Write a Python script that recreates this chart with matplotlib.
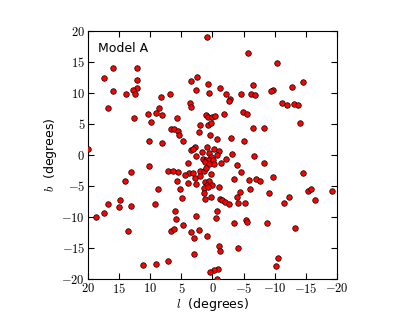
import numpy as np
import matplotlib
matplotlib.use("Agg")
from matplotlib import pyplot as plt
from matplotlib.ticker import FuncFormatter

# galactic longitude / latitude of the sources (degrees)
l_deg = [15.95, 12.09, 17.40, 12.14, 12.09, 12.83, 16.00, 13.86, 12.41, 8.23,
         6.78, 16.85, 8.60, 10.32, 9.13, 8.17, 0.93, -5.76, 2.54, 3.46,
         0.72, -1.21, -6.51, 2.65, 0.56, -2.17, -4.58, -6.19, -6.88, -2.81,
         -2.60, 3.62, 3.46, -4.90, -5.55, 1.05, -1.93, -10.37, -14.50, -12.83,
         -9.68, -9.36, -11.13, -11.93, -13.15, -13.79, 12.62, 9.94, 6.72, 6.14,
         10.16, 8.07, 19.97, 10.16, 13.10, 7.20, 14.07, 8.71, 14.87, 5.76,
         0.72, 0.08, -0.35, 1.96, 0.77, 0.19, 5.50, 5.43, 2.12, -6.56,
         0.45, 4.69, -0.72, -2.93, -5.11, 2.81, 3.46, 3.18, 0.93, -0.29,
         -1.05, -0.72, 1.69, 2.65, 0.51, 0.19, -3.18, -6.67, 1.58, 1.00,
         0.61, -0.13, 3.94, 1.25, 0.51, -0.19, -1.41, -2.12, -3.89, 6.40,
         5.55, 2.01, 1.32, 1.05, 0.19, 3.73, 3.09, 4.47, 2.86, 2.01,
         -4.63, 5.66, 3.89, 2.65, 1.25, 0.61, 0.88, 0.08, 1.32, 0.68,
         -1.05, -3.50, -5.87, -6.99, -7.64, 5.23, -6.03, 1.41, -4.42, 4.86,
         0.29, -1.21, -3.89, 1.25, -8.23, -14.07, -8.23, -14.60, -9.73, -9.08,
         -12.35, -15.40, -15.84, -19.16, -16.48, 18.78, 17.44, 16.80, 15.08, 13.15,
         13.63, 9.20, 6.03, 6.62, 6.14, 11.17, 9.13, 7.11, -1.48, -2.01,
         -2.70, -4.05, -5.18, -0.72, 5.82, 2.70, -0.51, -5.43, -5.50, 4.69,
         -3.41, 2.17, 3.41, 2.97, 0.88, -1.09, -1.16, -4.15, 2.97, -0.84,
         -0.29, 0.35, -0.77, -11.45, -8.81, -13.22, -10.58, -10.16]
b_deg = [14.08, 13.98, 12.47, 12.05, 10.85, 10.53, 10.32, 9.89, 9.89, 9.40,
         9.79, 7.53, 7.53, 6.56, 6.73, 6.45, 19.03, 16.40, 12.53, 11.98,
         11.40, 10.76, 11.24, 10.44, 9.95, 9.89, 9.79, 9.79, 9.68, 9.08,
         8.66, 8.39, 7.79, 6.98, 6.58, 6.37, 6.61, 14.79, 11.77, 10.97,
         10.53, 10.27, 8.44, 8.11, 8.18, 8.02, 6.02, 5.32, 4.24, 4.19,
         2.26, 1.98, 0.92, -1.82, -2.74, -2.63, -4.24, -5.48, -7.26, 5.92,
         6.18, 6.08, 6.29, 4.84, 4.89, 5.21, 3.87, 3.27, 3.76, 4.31,
         3.18, 2.21, 2.53, 2.69, 2.21, 1.29, 0.81, 0.97, 1.24, 0.97,
         0.69, 0.05, 0.53, -0.11, 0.27, -0.27, 0.16, -0.11, -0.65, -0.81,
         -0.81, -0.81, -1.29, -1.18, -1.45, -1.50, -1.24, -0.69, -1.56, -2.58,
         -2.79, -2.63, -2.58, -2.10, -3.11, -2.90, -2.95, -3.27, -3.66, -3.34,
         -2.79, -4.19, -4.56, -4.68, -4.31, -4.19, -4.79, -4.79, -5.32, -5.21,
         -5.21, -3.92, -4.03, -3.92, -4.15, -5.44, -5.48, -6.08, -6.02, -6.94,
         -6.73, -7.10, -6.73, -7.15, 4.40, 5.11, -1.24, -2.95, -3.60, -6.13,
         -6.73, -5.76, -5.44, -5.85, -7.26, -10.05, -9.31, -7.85, -8.44, -8.23,
         -12.21, -7.85, -8.98, -12.34, -12.02, -17.79, -17.63, -17.15, -7.26, -7.63,
         -7.85, -7.79, -7.79, -9.03, -10.32, -9.84, -10.11, -10.48, -10.76, -11.24,
         -11.02, -12.10, -12.37, -13.39, -13.06, -14.68, -15.44, -15.05, -15.97, -18.39,
         -18.60, -18.92, -20.00, -7.74, -10.92, -11.82, -16.56, -17.90]

ticks = [20, 15, 10, 5, 0, -5, -10, -15, -20]

plt.rcParams['mathtext.fontset'] = 'cm'

fig = plt.figure(figsize=(4.15, 3.12), dpi=100)
ax = fig.add_axes([0.212, 0.106, 0.600, 0.795])

ax.scatter(l_deg, b_deg, s=16, c='red', edgecolors='black', linewidths=0.5, zorder=3)

ax.set_xlim(20, -20)
ax.set_ylim(-20, 20)
ax.set_xticks(ticks)
ax.set_yticks(ticks)
fmt = FuncFormatter(lambda v, p: r'$%d$' % v)
ax.xaxis.set_major_formatter(fmt)
ax.yaxis.set_major_formatter(fmt)
ax.tick_params(direction='in', top=True, right=True, length=4, width=0.8,
               labelsize=9, pad=2)

ax.set_xlabel(r'$l$  (degrees)', fontsize=9, labelpad=0)
ax.set_ylabel(r'$b$  (degrees)', fontsize=9, labelpad=2)
ax.text(0.04, 0.955, 'Model A', transform=ax.transAxes, fontsize=9, va='top', ha='left')

fig.savefig('out.png', dpi=100)
